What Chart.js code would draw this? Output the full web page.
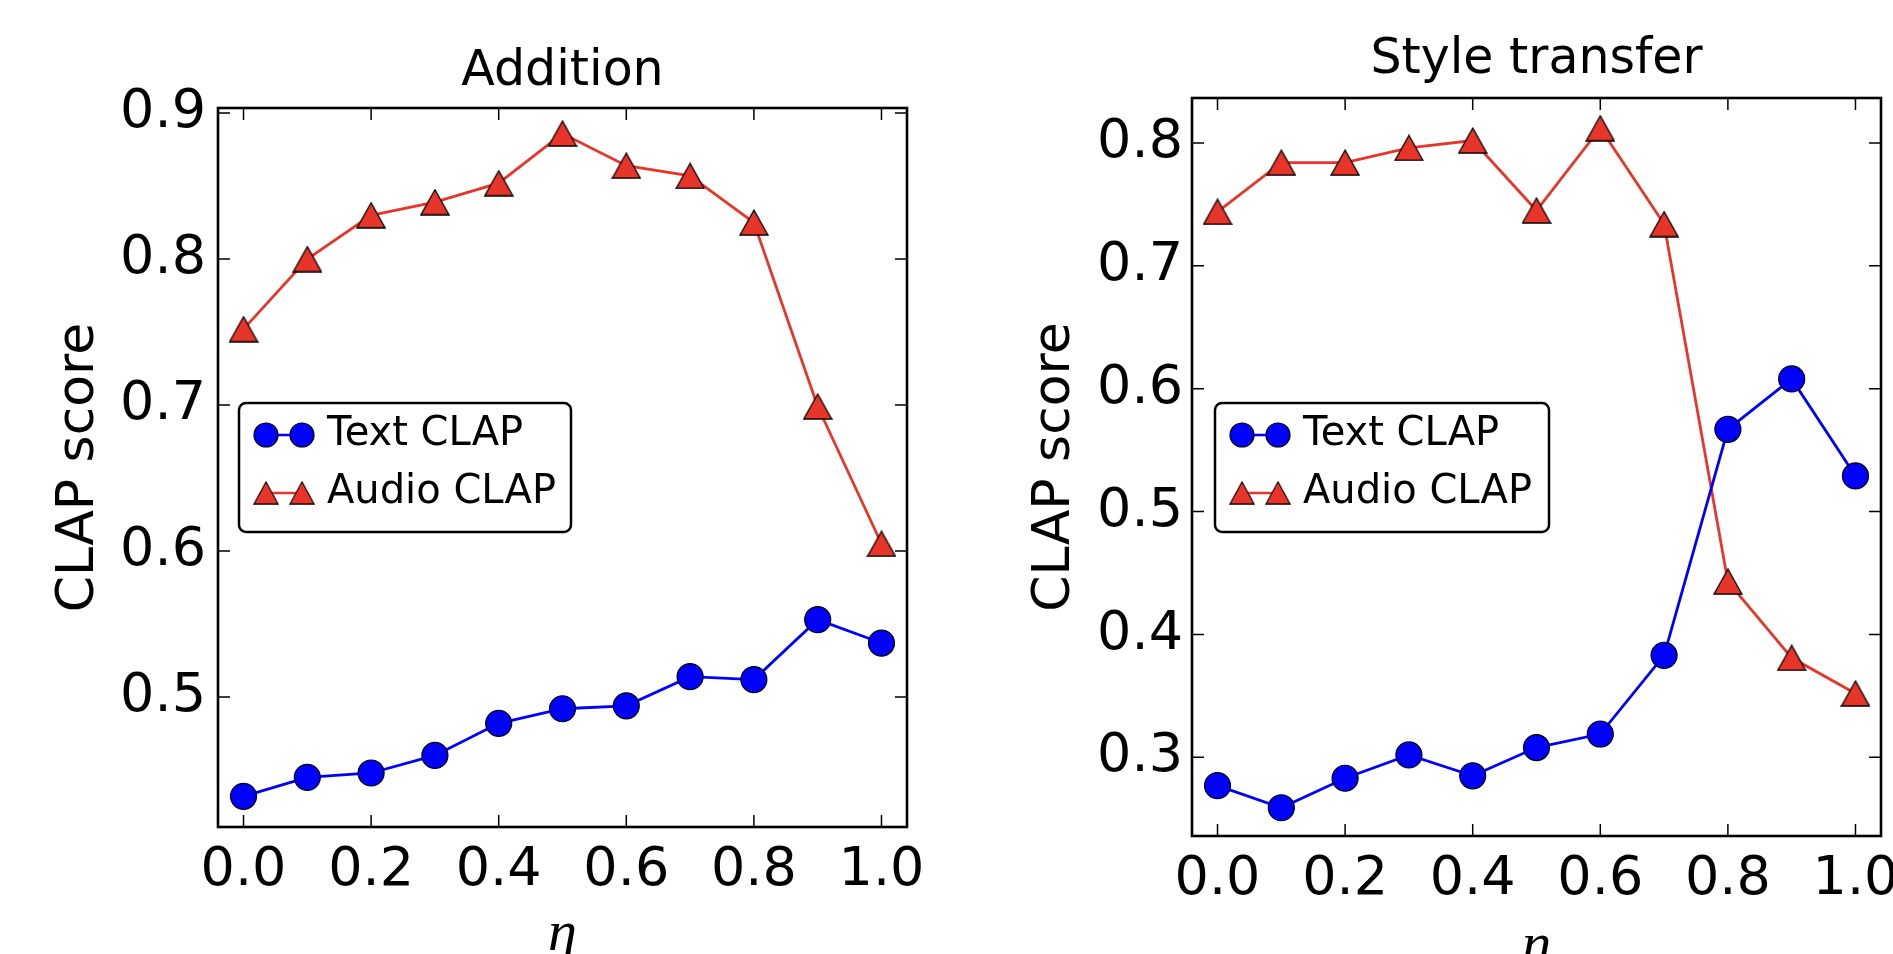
<!DOCTYPE html>
<html>
<head>
<meta charset="utf-8">
<script src="https://cdn.jsdelivr.net/npm/chart.js@4.4.0/dist/chart.umd.min.js"></script>
<style>
html, body { margin:0; padding:0; background:#fff; overflow:hidden; width:1893px; height:954px; }
.panel { position:absolute; top:0; height:1000px; }
#leftPanel { left:0; width:946px; }
#rightPanel { left:946px; width:1000px; }
</style>
</head>
<body>
<div class="panel" id="leftPanel"><canvas id="additionChart"></canvas></div>
<div class="panel" id="rightPanel"><canvas id="styleChart"></canvas></div>
<script>
// eta values on the x axis
const eta = [0.0, 0.1, 0.2, 0.3, 0.4, 0.5, 0.6, 0.7, 0.8, 0.9, 1.0];

// Addition panel
const additionText  = [0.432, 0.445, 0.448, 0.460, 0.482, 0.492, 0.494, 0.514, 0.512, 0.553, 0.537];
const additionAudio = [0.752, 0.800, 0.830, 0.839, 0.852, 0.886, 0.864, 0.857, 0.825, 0.699, 0.605];

// Style transfer panel
const styleText  = [0.277, 0.259, 0.283, 0.302, 0.285, 0.308, 0.319, 0.383, 0.567, 0.608, 0.529];
const styleAudio = [0.744, 0.784, 0.784, 0.796, 0.802, 0.745, 0.812, 0.734, 0.443, 0.381, 0.352];

const xTickValues = [0.0, 0.2, 0.4, 0.6, 0.8, 1.0];
const additionYTicks = [0.5, 0.6, 0.7, 0.8, 0.9];
const styleYTicks = [0.3, 0.4, 0.5, 0.6, 0.7, 0.8];

const seriesLabels = ['Text CLAP', 'Audio CLAP'];

const BLUE = '#0000ff';
const RED = '#e8352a';
const FONT = "'DejaVu Sans', sans-serif";

// triangle marker like matplotlib's '^' (centred on its bounding box)
function makeTriangle(w, h){
    const c = document.createElement('canvas');
    c.width = w; c.height = h;
    const g = c.getContext('2d');
    g.beginPath();
    g.moveTo(w/2, 1);
    g.lineTo(1, h-1);
    g.lineTo(w-1, h-1);
    g.closePath();
    g.fillStyle = RED;
    g.fill();
    g.lineWidth = 1.3;
    g.strokeStyle = '#000';
    g.stroke();
    return c;
}
const triangle = makeTriangle(30, 27);

function toPoints(ys){ return ys.map((y,i)=>({x:eta[i], y:y})); }

// frame, inward ticks on all four sides, title and the boxed legend
const decorations = {
    id:'decorations',
    afterDatasetsDraw(chart, args, opts){
        const {ctx, chartArea:a, scales} = chart;
        ctx.save();
        ctx.strokeStyle = '#000';
        ctx.lineWidth = 1.5;
        ctx.beginPath();
        scales.x.ticks.forEach(t=>{
            const px = scales.x.getPixelForValue(t.value);
            ctx.moveTo(px, a.bottom); ctx.lineTo(px, a.bottom-12);
            ctx.moveTo(px, a.top); ctx.lineTo(px, a.top+12);
        });
        scales.y.ticks.forEach(t=>{
            const py = scales.y.getPixelForValue(t.value);
            ctx.moveTo(a.left, py); ctx.lineTo(a.left+12, py);
            ctx.moveTo(a.right, py); ctx.lineTo(a.right-12, py);
        });
        ctx.stroke();
        ctx.lineWidth = 2.6;
        ctx.strokeRect(a.left, a.top, a.right-a.left, a.bottom-a.top);

        // title
        ctx.fillStyle = '#000';
        ctx.font = `49px ${FONT}`;
        ctx.textAlign = 'center';
        ctx.textBaseline = 'middle';
        ctx.fillText(opts.title, (a.left+a.right)/2, opts.titleY);

        // legend
        const lx = a.left + opts.legendX, ly = a.top + opts.legendY;
        const lw = opts.legendW, lh = 129;
        ctx.beginPath();
        ctx.roundRect(lx, ly, lw, lh, 7);
        ctx.fillStyle = '#fff';
        ctx.fill();
        ctx.lineWidth = 2.5;
        ctx.stroke();

        const m1 = lx + 27, m2 = lx + 63;
        const rows = [ly + 32, ly + 90];
        // text clap row
        ctx.strokeStyle = BLUE; ctx.lineWidth = 2.5;
        ctx.beginPath(); ctx.moveTo(m1, rows[0]); ctx.lineTo(m2, rows[0]); ctx.stroke();
        [m1, m2].forEach(mx=>{
            ctx.beginPath(); ctx.arc(mx, rows[0], 12, 0, Math.PI*2);
            ctx.fillStyle = BLUE; ctx.fill();
            ctx.strokeStyle = '#000'; ctx.lineWidth = 1.2; ctx.stroke();
        });
        // audio clap row
        ctx.strokeStyle = RED; ctx.lineWidth = 2.5;
        ctx.beginPath(); ctx.moveTo(m1, rows[1]); ctx.lineTo(m2, rows[1]); ctx.stroke();
        [m1, m2].forEach(mx=>{
            ctx.drawImage(triangle, mx-13, rows[1]-12, 26, 24);
        });

        ctx.fillStyle = '#000';
        ctx.font = `40px ${FONT}`;
        ctx.textAlign = 'left';
        ctx.textBaseline = 'middle';
        ctx.fillText(seriesLabels[0], lx + 88, rows[0]);
        ctx.fillText(seriesLabels[1], lx + 88, rows[1]);
        ctx.restore();
    }
};

function buildChart(id, textVals, audioVals, yTicks, cfg){
    return new Chart(document.getElementById(id).getContext('2d'), {
        type:'line',
        data:{
            datasets:[
                { label:seriesLabels[0], data:toPoints(textVals), borderColor:BLUE, borderWidth:2.8,
                  pointStyle:'circle', pointRadius:13, pointBackgroundColor:BLUE,
                  pointBorderColor:'#000', pointBorderWidth:1.2, tension:0 },
                { label:seriesLabels[1], data:toPoints(audioVals), borderColor:RED, borderWidth:2.8,
                  pointStyle:triangle, pointRadius:14, tension:0 }
            ]
        },
        options:{
            responsive:true,
            maintainAspectRatio:false,
            animation:false,
            events:[],
            layout:{ padding:{ top:cfg.top, right:cfg.right, left:0, bottom:0 } },
            plugins:{
                legend:{ display:false },
                tooltip:{ enabled:false },
                decorations:{ title:cfg.title, titleY:cfg.titleY, legendX:cfg.legendX, legendY:cfg.legendY, legendW:cfg.legendW }
            },
            scales:{
                x:{
                    type:'linear', min:-0.04, max:1.04,
                    afterBuildTicks:s=>{ s.ticks = xTickValues.map(v=>({value:v})); },
                    afterFit:s=>{ s.height = cfg.xHeight; },
                    grid:{ display:false, drawTicks:false },
                    border:{ display:false },
                    ticks:{ color:'#000', font:{ family:FONT, size:54 }, padding:12, maxRotation:0,
                            callback:v=>v.toFixed(1) },
                    title:{ display:true, text:'η', color:'#000',
                            font:{ family:"'Liberation Serif', serif", size:58, style:'italic' },
                            padding:{ top:0, bottom:cfg.etaPad } }
                },
                y:{
                    min:cfg.ymin, max:cfg.ymax,
                    afterBuildTicks:s=>{ s.ticks = yTicks.map(v=>({value:v})); },
                    afterFit:s=>{ s.width = cfg.yWidth; },
                    grid:{ display:false, drawTicks:false },
                    border:{ display:false },
                    ticks:{ color:'#000', font:{ family:FONT, size:54 }, padding:cfg.yTickPad,
                            callback:v=>v.toFixed(1) },
                    title:{ display:true, text:'CLAP score', color:'#000',
                            font:{ family:FONT, size:52 }, padding:{ top:cfg.yTitlePad, bottom:0 } }
                }
            }
        },
        plugins:[decorations]
    });
}

buildChart('additionChart', additionText, additionAudio, additionYTicks, {
    title:'Addition', titleY:72, top:108, right:39, xHeight:173, yWidth:218,
    ymin:0.411, ymax:0.9035, etaPad:30, yTickPad:12, yTitlePad:48,
    legendX:21, legendY:295, legendW:332
});

buildChart('styleChart', styleText, styleAudio, styleYTicks, {
    title:'Style transfer', titleY:60, top:98, right:65, xHeight:164, yWidth:246,
    ymin:0.236, ymax:0.8366, etaPad:18, yTickPad:9, yTitlePad:78,
    legendX:23, legendY:305, legendW:334
});
</script>
</body>
</html>
